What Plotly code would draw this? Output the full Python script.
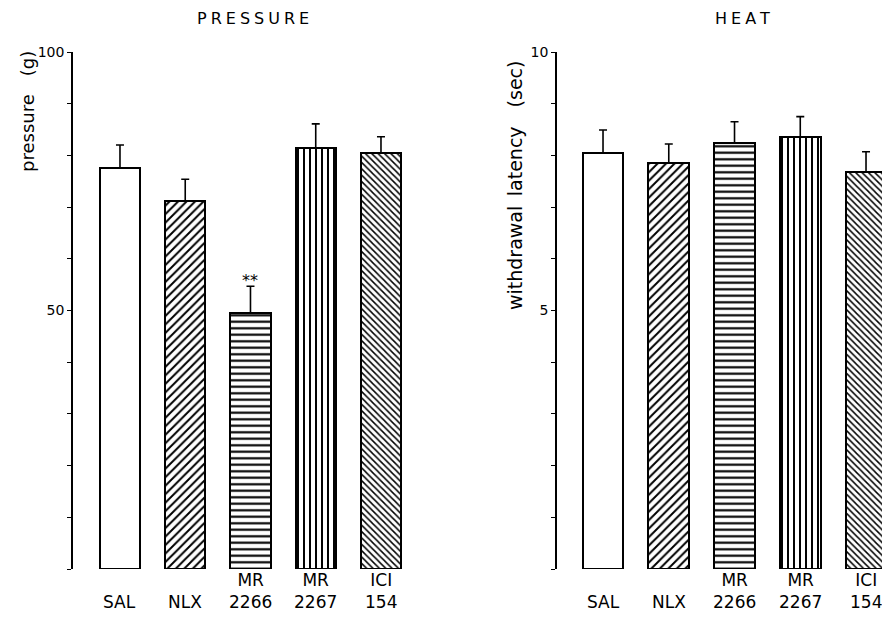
import plotly.graph_objects as go

categories = ["SAL", "NLX", "MR 2266", "MR 2267", "ICI 154"]
tick_labels = ["SAL", "NLX", "MR<br>2266", "MR<br>2267", "ICI<br>154"]
pressure = [77.6, 71.2, 49.5, 81.4, 80.5]
pressure_err = [4.4, 4.2, 5.2, 4.7, 3.1]
heat = [8.05, 7.85, 8.24, 8.36, 7.68]
heat_err = [0.44, 0.37, 0.41, 0.39, 0.39]
pressure_ticks = [50, 100]
heat_ticks = [5, 10]

shapes = ["", "/", "-", "|", "\\"]
sizes = [8, 6, 6.5, 6, 4.5]
xs = list(range(len(categories)))
FONT = "DejaVu Sans"
W, H = 882, 619

fig = go.Figure()

def add_bars(values, errs, xa, ya):
    fig.add_trace(go.Bar(
        x=xs, y=values, width=0.62, xaxis=xa, yaxis=ya,
        marker=dict(color="white", line=dict(color="black", width=2),
                    pattern=dict(shape=shapes, size=sizes, solidity=0.33,
                                 fgcolor="black", fgopacity=1, bgcolor="white",
                                 fillmode="overlay")),
        error_y=dict(type="data", symmetric=False, array=errs,
                     arrayminus=[0] * len(errs), color="black", thickness=1.6, width=4),
        showlegend=False, hoverinfo="skip"))

add_bars(pressure, pressure_err, "x", "y")
add_bars(heat, heat_err, "x2", "y2")

ydom = [(H - 569) / H, (H - 52) / H]
axis_common = dict(showgrid=False, zeroline=False, showline=True, linecolor="black",
                   linewidth=1.5, ticks="outside", ticklen=4, tickwidth=1.3, automargin=False,
                   tickcolor="black", tickfont=dict(family=FONT, size=14, color="black"))
fig.update_layout(
    width=W, height=H, margin=dict(l=0, r=0, t=0, b=0, autoexpand=False),
    paper_bgcolor="white", plot_bgcolor="white", bargap=0,
    xaxis=dict(domain=[73 / W, 420 / W], range=[-0.72, 4.598], visible=False, automargin=False),
    xaxis2=dict(domain=[557 / W, 1.0], range=[-0.70, 4.243], visible=False, automargin=False),
    yaxis=dict(domain=ydom, range=[0, 100], tickvals=pressure_ticks,
               ticktext=[str(v) for v in pressure_ticks],
               minor=dict(dtick=10, tick0=0, ticks="outside", ticklen=4,
                          tickcolor="black", tickwidth=1.3), **axis_common),
    yaxis2=dict(domain=ydom, range=[0, 10], anchor="x2", tickvals=heat_ticks,
                ticktext=[str(v) for v in heat_ticks],
                minor=dict(dtick=1, tick0=0, ticks="outside", ticklen=4,
                           tickcolor="black", tickwidth=1.3), **axis_common),
)

sp = "\u2005"
def spaced(s):
    return sp.join(list(s))

def px(x, y):
    return x / W, (H - y) / H

ann = []
def add_text(text, x, y, size, angle=0):
    ax, ay = px(x, y)
    ann.append(dict(text=text, x=ax, y=ay, xref="paper", yref="paper", textangle=angle,
                    xanchor="center", yanchor="middle",
                    showarrow=False, font=dict(family=FONT, size=size, color="black")))

add_text(spaced("PRESSURE"), 253, 18, 16)
add_text(spaced("HEAT"), 742, 19, 16)
add_text("pressure\u2003(g)", 27, 112, 18, angle=-90)
add_text("withdrawal\u2002latency\u2003(sec)", 515, 186, 19, angle=-90)

for xa in ["x", "x2"]:
    for i in xs:
        ann.append(dict(text=tick_labels[i], x=i, y=(H - 614) / H, xref=xa, yref="paper",
                        xanchor="center", yanchor="bottom", showarrow=False,
                        font=dict(family=FONT, size=17, color="black")))

ann.append(dict(text="**", x=2, y=pressure[2] + pressure_err[2], xref="x", yref="y",
                xanchor="center", yanchor="bottom", yshift=-6, showarrow=False,
                font=dict(family=FONT, size=16, color="black")))

fig.update_layout(annotations=ann)
fig.write_html("out.html", config={"displayModeBar": False},
               post_script="document.body.style.margin='0px';")
